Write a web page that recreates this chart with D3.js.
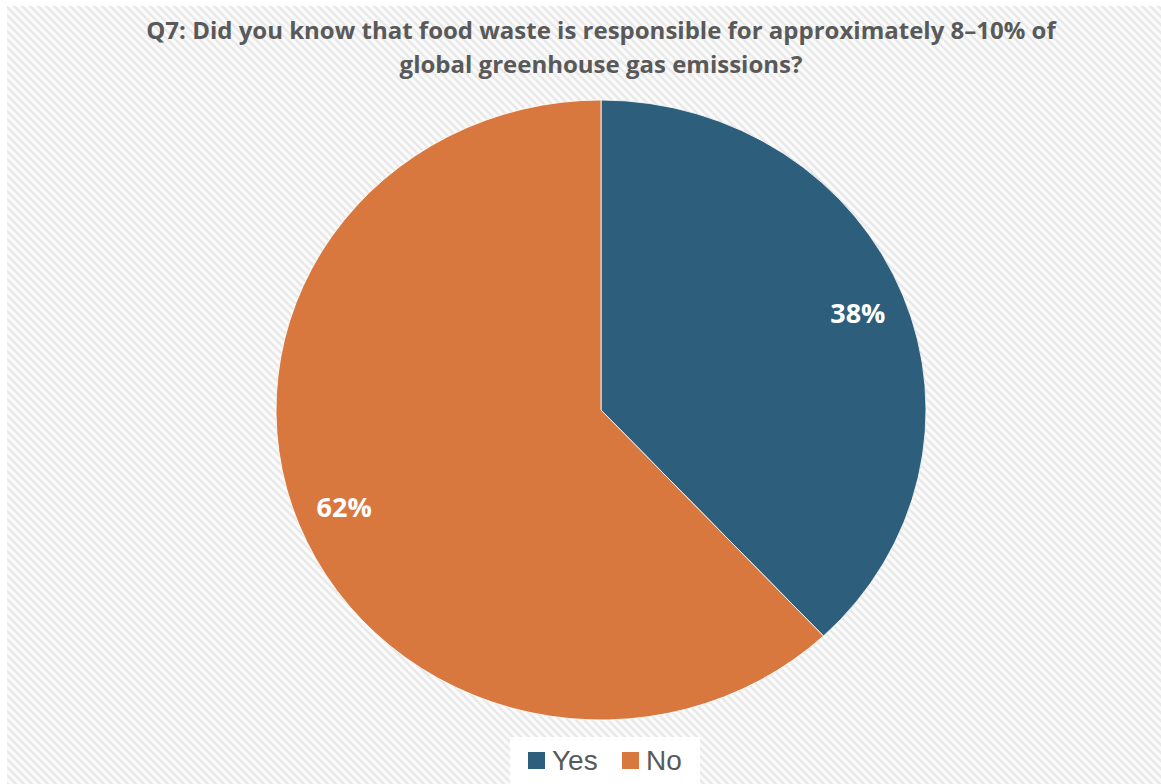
<!DOCTYPE html>
<html>
<head>
<meta charset="utf-8">
<script src="https://cdn.jsdelivr.net/npm/d3@7"></script>
<style>
  html, body { margin: 0; padding: 0; background: #ffffff; }
  svg { display: block; }
</style>
</head>
<body>
<svg id="chart" width="1161" height="784"></svg>
<script>
// Survey answers
const categories = ["Yes", "No"];
const shares = [38, 62];
const colors = ["#2D5E7B", "#D8783F"];
const titleLines = [
  "Q7: Did you know that food waste is responsible for approximately 8\u201310% of",
  "global greenhouse gas emissions?"
];

const W = 1161, H = 784;
const svg = d3.select("#chart");

// Diagonal hatched chart-area background
const defs = svg.append("defs");
const pat = defs.append("pattern")
  .attr("id", "hatch")
  .attr("patternUnits", "userSpaceOnUse")
  .attr("width", 8).attr("height", 8);
pat.append("rect").attr("width", 8).attr("height", 8).attr("fill", "#fbfbfb");
pat.append("path")
  .attr("d", "M-2,-2 L10,10 M-2,6 L2,10 M6,-2 L10,2")
  .attr("stroke", "#e9e9e9")
  .attr("stroke-width", 2.4);

svg.append("rect")
  .attr("x", 7).attr("y", 6)
  .attr("width", W - 7).attr("height", H - 6)
  .attr("fill", "url(#hatch)");

// Title
const title = svg.append("text")
  .attr("text-anchor", "middle")
  .attr("font-family", "'Open Sans', sans-serif")
  .attr("font-weight", 700)
  .attr("font-size", 24)
  .attr("fill", "#595959");
title.selectAll("tspan")
  .data(titleLines)
  .join("tspan")
  .attr("x", 601)
  .attr("y", (d, i) => 39 + i * 34)
  .text(d => d);

// Pie (slightly wider than tall)
const cx = 601, cy = 410, rx = 325, ry = 310;
const pie = d3.pie().sort(null).value(d => d)(shares);
const arc = d3.arc().innerRadius(0).outerRadius(ry);
const labelArc = d3.arc().innerRadius(ry * 0.85).outerRadius(ry * 0.85);

const g = svg.append("g")
  .attr("transform", `translate(${cx},${cy}) scale(${rx / ry},1)`);

g.selectAll("path")
  .data(pie)
  .join("path")
  .attr("d", arc)
  .attr("fill", (d, i) => colors[i])
  .attr("stroke", "#ffffff")
  .attr("stroke-width", 0.8);

svg.selectAll("text.val")
  .data(pie)
  .join("text")
  .attr("class", "val")
  .attr("x", d => cx + labelArc.centroid(d)[0] * rx / ry)
  .attr("y", d => cy + labelArc.centroid(d)[1])
  .attr("dy", "0.36em")
  .attr("text-anchor", "middle")
  .attr("font-family", "'Open Sans', sans-serif")
  .attr("font-weight", 700)
  .attr("font-size", 27)
  .attr("fill", "#ffffff")
  .text(d => d.data + "%");

// Legend
svg.append("rect")
  .attr("x", 510).attr("y", 737)
  .attr("width", 190).attr("height", 47)
  .attr("fill", "#ffffff");

const legendX = [528, 622];
const leg = svg.selectAll("g.leg")
  .data(categories)
  .join("g")
  .attr("class", "leg")
  .attr("transform", (d, i) => `translate(${legendX[i]},752)`);
leg.append("rect")
  .attr("width", 17).attr("height", 17)
  .attr("fill", (d, i) => colors[i]);
leg.append("text")
  .attr("x", 24).attr("y", 18)
  .attr("font-family", "'Liberation Sans', Arial, sans-serif")
  .attr("font-size", 28)
  .attr("fill", "#595959")
  .text(d => d);
</script>
</body>
</html>
